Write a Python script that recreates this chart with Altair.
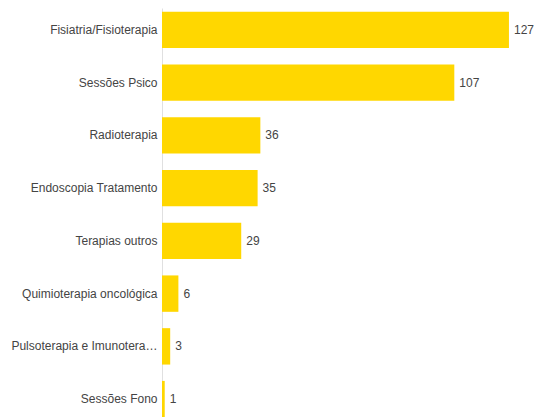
import altair as alt
import pandas as pd

categories = [
    "Fisiatria/Fisioterapia",
    "Sessões Psico",
    "Radioterapia",
    "Endoscopia Tratamento",
    "Terapias outros",
    "Quimioterapia oncológica",
    "Pulsoterapia e Imunotera…",
    "Sessões Fono",
]
values = [127, 107, 36, 35, 29, 6, 3, 1]

df = pd.DataFrame({"categoria": categories, "valor": values})

y_enc = alt.Y(
    "categoria:N",
    sort=categories,
    title=None,
    scale=alt.Scale(paddingInner=0.31, paddingOuter=0.07),
    axis=alt.Axis(
        ticks=False,
        domain=True,
        domainColor="#e0e0e0",
        domainWidth=1,
        labelFont="Liberation Sans",
        labelFontSize=12,
        labelColor="#444444",
        labelPadding=5,
        labelLimit=300,
        grid=False,
    ),
)
x_enc = alt.X(
    "valor:Q",
    scale=alt.Scale(domain=[0, 136.9], nice=False, zero=True),
    axis=None,
)

base = alt.Chart(df)

bars = base.mark_bar(color="#FFD700").encode(y=y_enc, x=x_enc)

labels = base.mark_text(
    align="left",
    baseline="middle",
    dx=5,
    font="Liberation Sans",
    fontSize=12,
    color="#444444",
).encode(y=y_enc, x=x_enc, text="valor:Q")

chart = (
    alt.layer(bars, labels)
    .properties(
        width=374,
        height=413,
        autosize=alt.AutoSizeParams(type="none"),
        padding={"left": 154, "top": 0, "right": 0, "bottom": 0},
    )
    .configure_view(stroke=None)
)

chart.save("out.html", embed_options={"renderer": "svg", "actions": False})
